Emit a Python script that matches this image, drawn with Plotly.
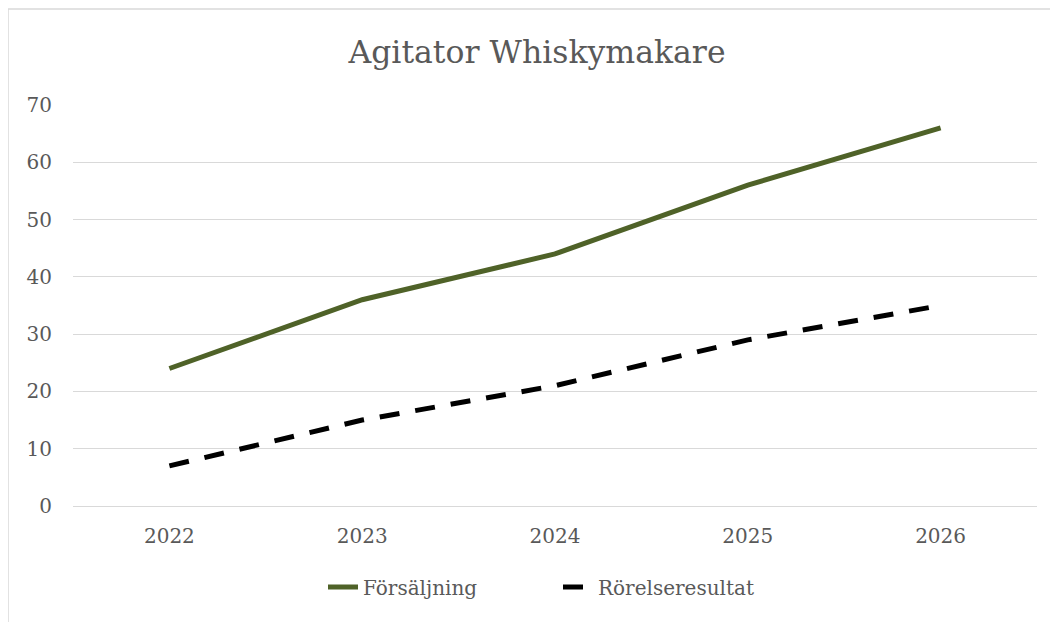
import plotly.graph_objects as go

years = ["2022", "2023", "2024", "2025", "2026"]
forsaljning = [24, 36, 44, 56, 66]
rorelseresultat = [7, 15, 21, 29, 35]
y_ticks = [0, 10, 20, 30, 40, 50, 60, 70]

FONT = "DejaVu Serif"
GREY = "#595959"

fig = go.Figure()
fig.add_trace(go.Scatter(x=years, y=forsaljning, mode="lines", name="Försäljning",
                         line=dict(color="#4F6228", width=5)))
fig.add_trace(go.Scatter(x=years, y=rorelseresultat, mode="lines", name="Rörelseresultat",
                         line=dict(color="#000000", width=5, dash="20px,16px")))

# page body has an 8px offset; work in figure coordinates
OFF = 8
W, H = 1058 - OFF, 622 - OFF
L, T = 73 - OFF, 105 - OFF
R = W - (1037 - OFF)
B = H - (506 - OFF)
pw, ph = W - L - R, H - T - B

fig.update_layout(
    width=W, height=H,
    margin=dict(l=L, r=R, t=T, b=B),
    paper_bgcolor="white", plot_bgcolor="white",
    font=dict(family=FONT, color=GREY, size=20),
    title=dict(text="Agitator Whiskymakare", xref="paper", x=(537 - 73) / pw, xanchor="center",
               y=1 - (52 - OFF) / H, yanchor="middle",
               font=dict(family=FONT, size=31.5, color=GREY)),
    xaxis=dict(type="category", range=[-0.5, 4.5], showgrid=False, showline=True,
               linecolor="#D9D9D9", linewidth=1, ticks="", tickfont=dict(size=20, color=GREY),
               zeroline=False, ticklabelstandoff=12),
    yaxis=dict(range=[0, 70], tickvals=y_ticks, showgrid=True, gridcolor="#D9D9D9", gridwidth=1,
               showline=False, zeroline=False, ticks="", ticklen=0, ticklabelstandoff=20,
               tickfont=dict(size=20, color=GREY)),
    legend=dict(orientation="h", x=(558 - 73) / pw, xanchor="center", y=-(587 - 506) / ph, yanchor="middle",
                font=dict(size=20, color=GREY), traceorder="normal", entrywidth=190,
                entrywidthmode="pixels"),
    showlegend=True,
)

# thin outer chart border (top and left edges visible)
bx = (8 - 73) / pw
by = 1 + (105 - 9) / ph
fig.add_shape(type="line", xref="paper", yref="paper", x0=bx, x1=1 + R / pw + 0.01, y0=by, y1=by,
              line=dict(color="#D9D9D9", width=1.5))
fig.add_shape(type="line", xref="paper", yref="paper", x0=bx, x1=bx, y0=by, y1=-B / ph - 0.01,
              line=dict(color="#D9D9D9", width=1.5))

fig.write_html("out.html")
